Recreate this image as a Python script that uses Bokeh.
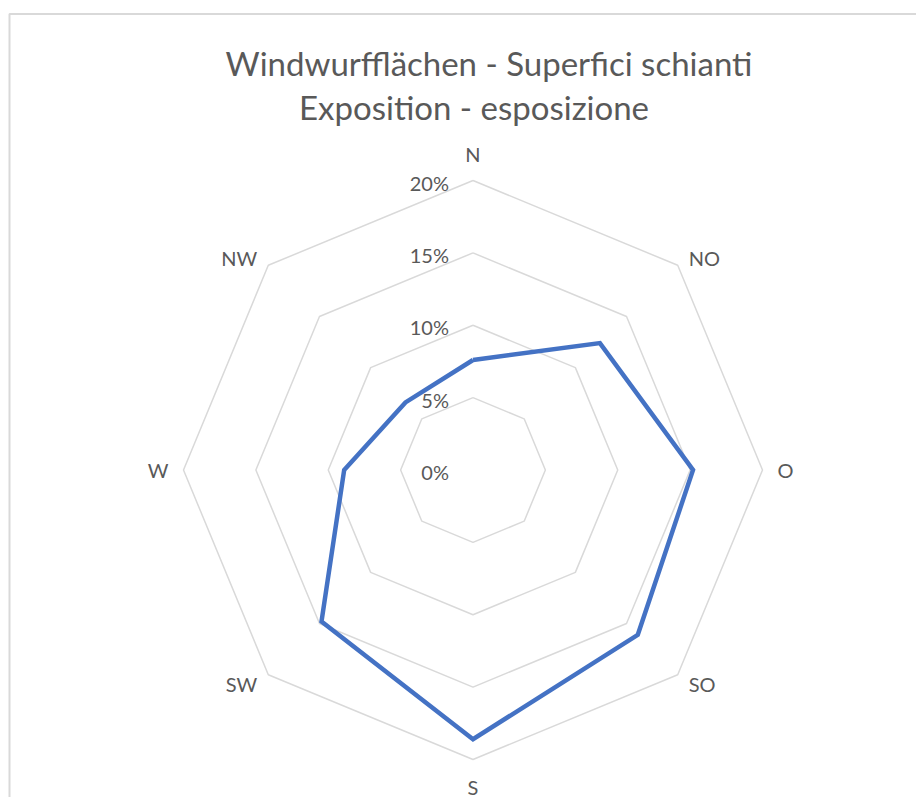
import math
from bokeh.plotting import figure
from bokeh.models import Range1d, ColumnDataSource
from bokeh.core.properties import value
from bokeh.embed import file_html
from bokeh.resources import INLINE

# ---- data ----
categories = ["N", "NO", "O", "SO", "S", "SW", "W", "NW"]
shares = [7.6, 12.4, 15.2, 16.1, 18.6, 14.8, 8.9, 6.6]   # percent
ring_levels = [5, 10, 15, 20]
tick_levels = [0, 5, 10, 15, 20]
tick_labels = ["0%", "5%", "10%", "15%", "20%"]
title_lines = ["Windwurfflächen - Superfici schianti", "Exposition - esposizione"]

# ---- layout (pixels) ----
W, H = 916, 797
cx_px, cy_px = 472.5, 469.5        # centre within the frame
scale = 289.5 / 20.0                # px per percent
FONT = value("Lato")
TXT = "#595959"
GRID = "#d9d9d9"

x0 = -cx_px / scale
x1 = (W - cx_px) / scale
y1 = cy_px / scale
y0 = -(H - cy_px) / scale

p = figure(width=W, height=H, output_backend="svg", toolbar_location=None,
           x_range=Range1d(x0, x1), y_range=Range1d(y0, y1),
           x_axis_location=None, y_axis_location=None, min_border=0)
p.grid.visible = False
p.outline_line_color = None
p.background_fill_color = "white"

def px(v):
    return v / scale

angles = [2 * math.pi * i / len(categories) for i in range(len(categories))]

# border (left and top edges visible)
bl = x0 + px(9.0)
bt = y1 - px(13.5)
p.line([bl, bl, x1 + 1], [y0 - 1, bt, bt], line_color=GRID, line_width=2)

# grid rings
for lv in ring_levels:
    xs = [lv * math.sin(a) for a in angles] + [0]
    ys = [lv * math.cos(a) for a in angles] + [lv]
    p.line(xs, ys, line_color=GRID, line_width=1.5)

# series
sx = [v * math.sin(a) for v, a in zip(shares, angles)]
sy = [v * math.cos(a) for v, a in zip(shares, angles)]
p.line(sx + sx[:1], sy + sy[:1], line_color="#4472C4", line_width=4.5,
       line_join="miter")

# tick labels
p.text(x=[px(-24)] * len(tick_levels),
       y=[lv - px(2) for lv in tick_levels], text=tick_labels,
       text_font=FONT, text_font_size="20px", text_color=TXT,
       text_align="right", text_baseline="middle")

# category labels
lx, ly, la = [], [], []
R = ring_levels[-1]
for a in angles:
    s, c = math.sin(a), math.cos(a)
    sgx = 0 if abs(s) < 0.1 else (1 if s > 0 else -1)
    sgy = 0 if abs(c) < 0.1 else (1 if c > 0 else -1)
    if sgx == 0:
        offx, offy = 0, 27 * sgy
    elif sgy == 0:
        offx, offy = 15 * sgx, 0
    else:
        offx, offy = 11 * sgx, -9 * (1 if sgy < 0 else -0.8)
    lx.append(R * s + px(offx))
    ly.append(R * c + px(offy))
    la.append("center" if sgx == 0 else ("left" if sgx > 0 else "right"))
src = ColumnDataSource(dict(x=lx, y=ly, t=categories, a=la))
p.text(x="x", y="y", text="t", text_align="a", source=src,
       text_font=FONT, text_font_size="20px", text_color=TXT,
       text_baseline="middle")

# title
p.text(x=[px(16), px(1)], y=[y1 - px(62), y1 - px(106)], text=title_lines,
       text_font=FONT, text_font_size="33px", text_color=TXT,
       text_font_style="normal",
       text_align="center", text_baseline="middle")

open("out.html", "w").write(file_html(p, INLINE))
